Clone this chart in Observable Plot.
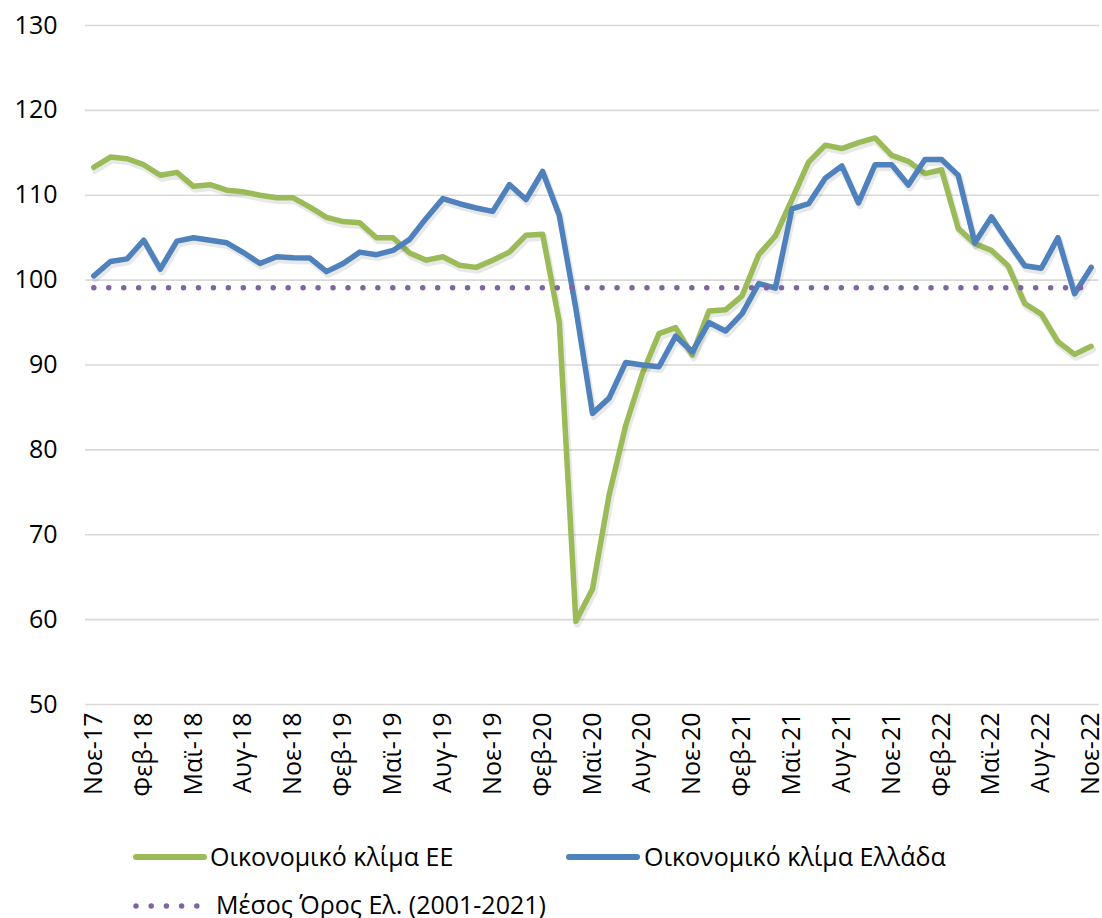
<!DOCTYPE html>
<html><head><meta charset="utf-8">
<script src="https://cdn.jsdelivr.net/npm/d3@7"></script>
<script src="https://cdn.jsdelivr.net/npm/@observablehq/plot@0.6"></script>
<style>
body{margin:0;background:#fff;font-family:"Open Sans",sans-serif;}
#chart{position:relative;width:1102px;height:918px;overflow:hidden;}
#chart svg text{font-size:25px;}
.lg{position:absolute;font-size:25px;line-height:28px;color:#000;white-space:nowrap;}
.sw{position:absolute;}
</style></head><body><div id="chart"></div>
<script>
const months = [
 "Νοε-17","Δεκ-17","Ιαν-18","Φεβ-18","Μαρ-18","Απρ-18","Μαϊ-18","Ιουν-18","Ιουλ-18","Αυγ-18","Σεπ-18","Οκτ-18",
 "Νοε-18","Δεκ-18","Ιαν-19","Φεβ-19","Μαρ-19","Απρ-19","Μαϊ-19","Ιουν-19","Ιουλ-19","Αυγ-19","Σεπ-19","Οκτ-19",
 "Νοε-19","Δεκ-19","Ιαν-20","Φεβ-20","Μαρ-20","Απρ-20","Μαϊ-20","Ιουν-20","Ιουλ-20","Αυγ-20","Σεπ-20","Οκτ-20",
 "Νοε-20","Δεκ-20","Ιαν-21","Φεβ-21","Μαρ-21","Απρ-21","Μαϊ-21","Ιουν-21","Ιουλ-21","Αυγ-21","Σεπ-21","Οκτ-21",
 "Νοε-21","Δεκ-21","Ιαν-22","Φεβ-22","Μαρ-22","Απρ-22","Μαϊ-22","Ιουν-22","Ιουλ-22","Αυγ-22","Σεπ-22","Οκτ-22",
 "Νοε-22"
];
const euClimate = [
 113.3,114.5,114.3,113.6,112.35,112.7,111.05,111.25,110.6,110.4,110.0,109.7,
 109.7,108.6,107.4,106.9,106.75,105.0,105.0,103.2,102.35,102.75,101.75,101.5,
 102.35,103.3,105.3,105.4,95.1,59.8,63.6,74.7,82.9,89.0,93.7,94.4,
 91.2,96.35,96.5,98.15,103.0,105.2,109.5,113.9,115.9,115.5,116.2,116.75,
 114.7,114.0,112.55,113.0,106.1,104.3,103.5,101.7,97.25,96.0,92.75,91.25,
 92.2
];
const grClimate = [
 100.5,102.2,102.5,104.7,101.3,104.6,105.0,104.7,104.4,103.25,101.95,102.75,
 102.65,102.6,101.0,101.95,103.3,103.0,103.5,104.8,107.3,109.6,109.0,108.5,
 108.1,111.25,109.5,112.8,107.65,96.65,84.3,86.1,90.3,90.0,89.8,93.4,
 91.55,95.0,94.0,96.05,99.6,99.05,108.4,109.0,112.0,113.45,109.1,113.6,
 113.6,111.2,114.2,114.2,112.35,104.4,107.45,104.5,101.7,101.4,105.0,98.4,
 101.5
];
const greekAverage = 99.1;
const yTicks = [50,60,70,80,90,100,110,120,130];
const xTickLabels = ["Νοε-17","Φεβ-18","Μαϊ-18","Αυγ-18","Νοε-18","Φεβ-19","Μαϊ-19","Αυγ-19","Νοε-19","Φεβ-20","Μαϊ-20","Αυγ-20","Νοε-20","Φεβ-21","Μαϊ-21","Αυγ-21","Νοε-21","Φεβ-22","Μαϊ-22","Αυγ-22","Νοε-22"];
const seriesNames = ["Οικονομικό κλίμα ΕΕ","Οικονομικό κλίμα Ελλάδα","Μέσος Όρος Ελ. (2001-2021)"];
const colors = ["#9BBB59","#4F81BD","#8064A2"];

const rows = months.map((m,i)=>({m, eu: euClimate[i], gr: grClimate[i]}));
const avgRows = [months[0], months[months.length-1]].map(m=>({m, v: greekAverage}));

const shadow = {stroke:"#000", strokeOpacity:0.09, strokeWidth:7, strokeLinejoin:"round", strokeLinecap:"round", dx:1.5, dy:3};

const plot = Plot.plot({
  width:1102, height:815, marginTop:25, marginBottom:111, marginLeft:85, marginRight:3,
  style:{fontFamily:"'Open Sans', sans-serif", fontSize:"25px", color:"#000", background:"transparent", overflow:"visible"},
  x:{type:"point", domain:months, padding:0.5},
  y:{domain:[50,130]},
  marks:[
    Plot.ruleY(yTicks,{stroke:"#d9d9d9", strokeWidth:1.6}),
    Plot.axisY({ticks:yTicks, tickSize:0, tickPadding:28, label:null}),
    Plot.axisX({ticks:xTickLabels, tickSize:0, tickPadding:8, tickRotate:-90, label:null}),
    Plot.line(rows,{x:"m", y:"eu", ...shadow}),
    Plot.line(rows,{x:"m", y:"eu", stroke:colors[0], strokeWidth:5.5, strokeLinejoin:"round", strokeLinecap:"round"}),
    Plot.line(rows,{x:"m", y:"gr", ...shadow}),
    Plot.line(rows,{x:"m", y:"gr", stroke:colors[1], strokeWidth:5.5, strokeLinejoin:"round", strokeLinecap:"round"}),
    Plot.line(avgRows,{x:"m", y:"v", stroke:colors[2], strokeWidth:5.5, strokeDasharray:"0,14.95", strokeLinecap:"round"})
  ]
});
const chart = document.getElementById("chart");
chart.appendChild(plot);

// legend
function addLine(x, yc, color, dotted){
  const s = d3.select(chart).append("svg").attr("class","sw")
    .style("left",x+"px").style("top",(yc-6)+"px").attr("width",76).attr("height",12);
  s.append("line").attr("x1",4).attr("x2",dotted?65:72).attr("y1",6).attr("y2",6)
    .attr("stroke",color).attr("stroke-width",dotted?5.5:6).attr("stroke-linecap","round")
    .attr("stroke-dasharray",dotted?"0,15.2":null);
}
function addText(x, yc, t){
  d3.select(chart).append("div").attr("class","lg").style("left",x+"px").style("top",(yc-15)+"px").text(t);
}
addLine(132,857,colors[0],false); addText(210,857,seriesNames[0]);
addLine(565,857,colors[1],false); addText(644,857,seriesNames[1]);
addLine(132,906,colors[2],true);  addText(216,905,seriesNames[2]);
</script></body></html>
